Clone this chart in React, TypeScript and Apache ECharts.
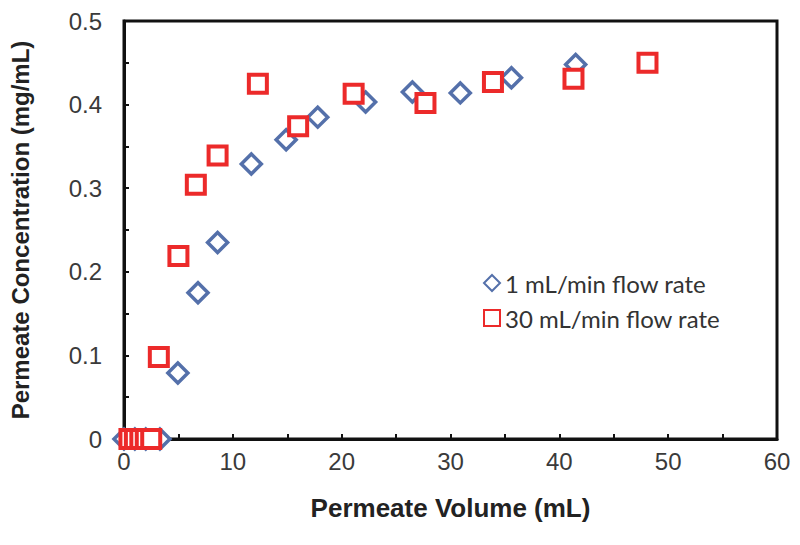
import React, { useEffect, useRef } from "react";
import * as echarts from "echarts";

const seriesNames = ["1 mL/min flow rate", "30 mL/min flow rate"];
const flow1X = [0, 1, 2, 3.3, 4.95, 6.8, 8.6, 11.7, 14.9, 17.8, 22.2, 26.5, 30.9, 35.6, 41.5];
const flow1Y = [0, 0, 0, 0, 0.079, 0.175, 0.235, 0.329, 0.358, 0.385, 0.403, 0.415, 0.414, 0.432, 0.448];
const flow30X = [0.5, 1.0, 1.5, 2.0, 2.5, 3.2, 5.0, 6.6, 8.6, 12.3, 16.0, 21.1, 27.7, 33.9, 41.3, 48.1];
const flow30Y = [0, 0, 0, 0, 0, 0.098, 0.219, 0.304, 0.339, 0.425, 0.374, 0.413, 0.402, 0.427, 0.431, 0.45];
const xTitle = "Permeate Volume (mL)";
const yTitle = "Permeate Concentration (mg/mL)";

const BLUE = "#5470aa";
const RED = "#ec2a2a";

export default function App() {
  const ref = useRef<HTMLDivElement>(null);
  useEffect(() => {
    if (!ref.current) return;
    const chart = echarts.init(ref.current, null, { renderer: "svg" });
    const pair = (xs: number[], ys: number[]) => xs.map((x, i) => [x, ys[i]]);
    chart.setOption({
      animation: false,
      backgroundColor: "#ffffff",
      grid: {
        left: 123,
        right: 23,
        top: 21,
        bottom: 106,
        show: true,
        borderColor: "#111",
        borderWidth: 3,
        backgroundColor: "transparent",
      },
      legend: {
        orient: "vertical",
        left: 478,
        top: 266,
        itemWidth: 16,
        itemHeight: 16,
        itemGap: 11,
        data: seriesNames,
        textStyle: { fontFamily: "Lato", fontSize: 24, color: "#333" },
      },
      xAxis: {
        type: "value",
        min: 0,
        max: 60,
        interval: 5,
        name: xTitle,
        nameLocation: "middle",
        nameGap: 56,
        nameTextStyle: { fontFamily: "Liberation Sans", fontWeight: "bold", fontSize: 26, color: "#222" },
        axisLine: { lineStyle: { color: "#111", width: 3 } },
        axisTick: { inside: true, length: 5, lineStyle: { color: "#111", width: 2 } },
        splitLine: { show: false },
        axisLabel: {
          margin: 10,
          fontFamily: "Liberation Sans",
          fontSize: 24,
          color: "#3a3a3a",
          formatter: (v: number) => (Math.round(v) % 10 === 0 ? String(Math.round(v)) : ""),
        },
      },
      yAxis: {
        type: "value",
        min: 0,
        max: 0.5,
        interval: 0.05,
        name: yTitle,
        nameLocation: "middle",
        nameGap: 92,
        nameTextStyle: { fontFamily: "Liberation Sans", fontWeight: "bold", fontSize: 24, color: "#222" },
        axisLine: { show: true, lineStyle: { color: "#111", width: 3 } },
        axisTick: { show: true, inside: true, length: 5, lineStyle: { color: "#111", width: 2 } },
        splitLine: { show: false },
        axisLabel: {
          margin: 22,
          fontFamily: "Liberation Sans",
          fontSize: 24,
          color: "#3a3a3a",
          formatter: (v: number) => {
            const k = Math.round(v * 100);
            if (k % 10 !== 0) return "";
            return k === 0 ? "0" : (k / 100).toFixed(1);
          },
        },
      },
      series: [
        {
          name: seriesNames[0],
          type: "scatter",
          clip: false,
          symbol: "diamond",
          symbolSize: 20,
          itemStyle: { color: "#ffffff", borderColor: BLUE, borderWidth: 3.5, opacity: 1 },
          data: pair(flow1X, flow1Y),
          z: 2,
        },
        {
          name: seriesNames[1],
          type: "scatter",
          clip: false,
          symbol: "rect",
          symbolSize: 18,
          itemStyle: { color: "#ffffff", borderColor: RED, borderWidth: 4, opacity: 1 },
          data: pair(flow30X, flow30Y),
          z: 3,
        },
      ],
    });
    return () => chart.dispose();
  }, []);
  return <div ref={ref} style={{ width: 800, height: 545, position: "absolute", left: 0, top: 0 }} />;
}
